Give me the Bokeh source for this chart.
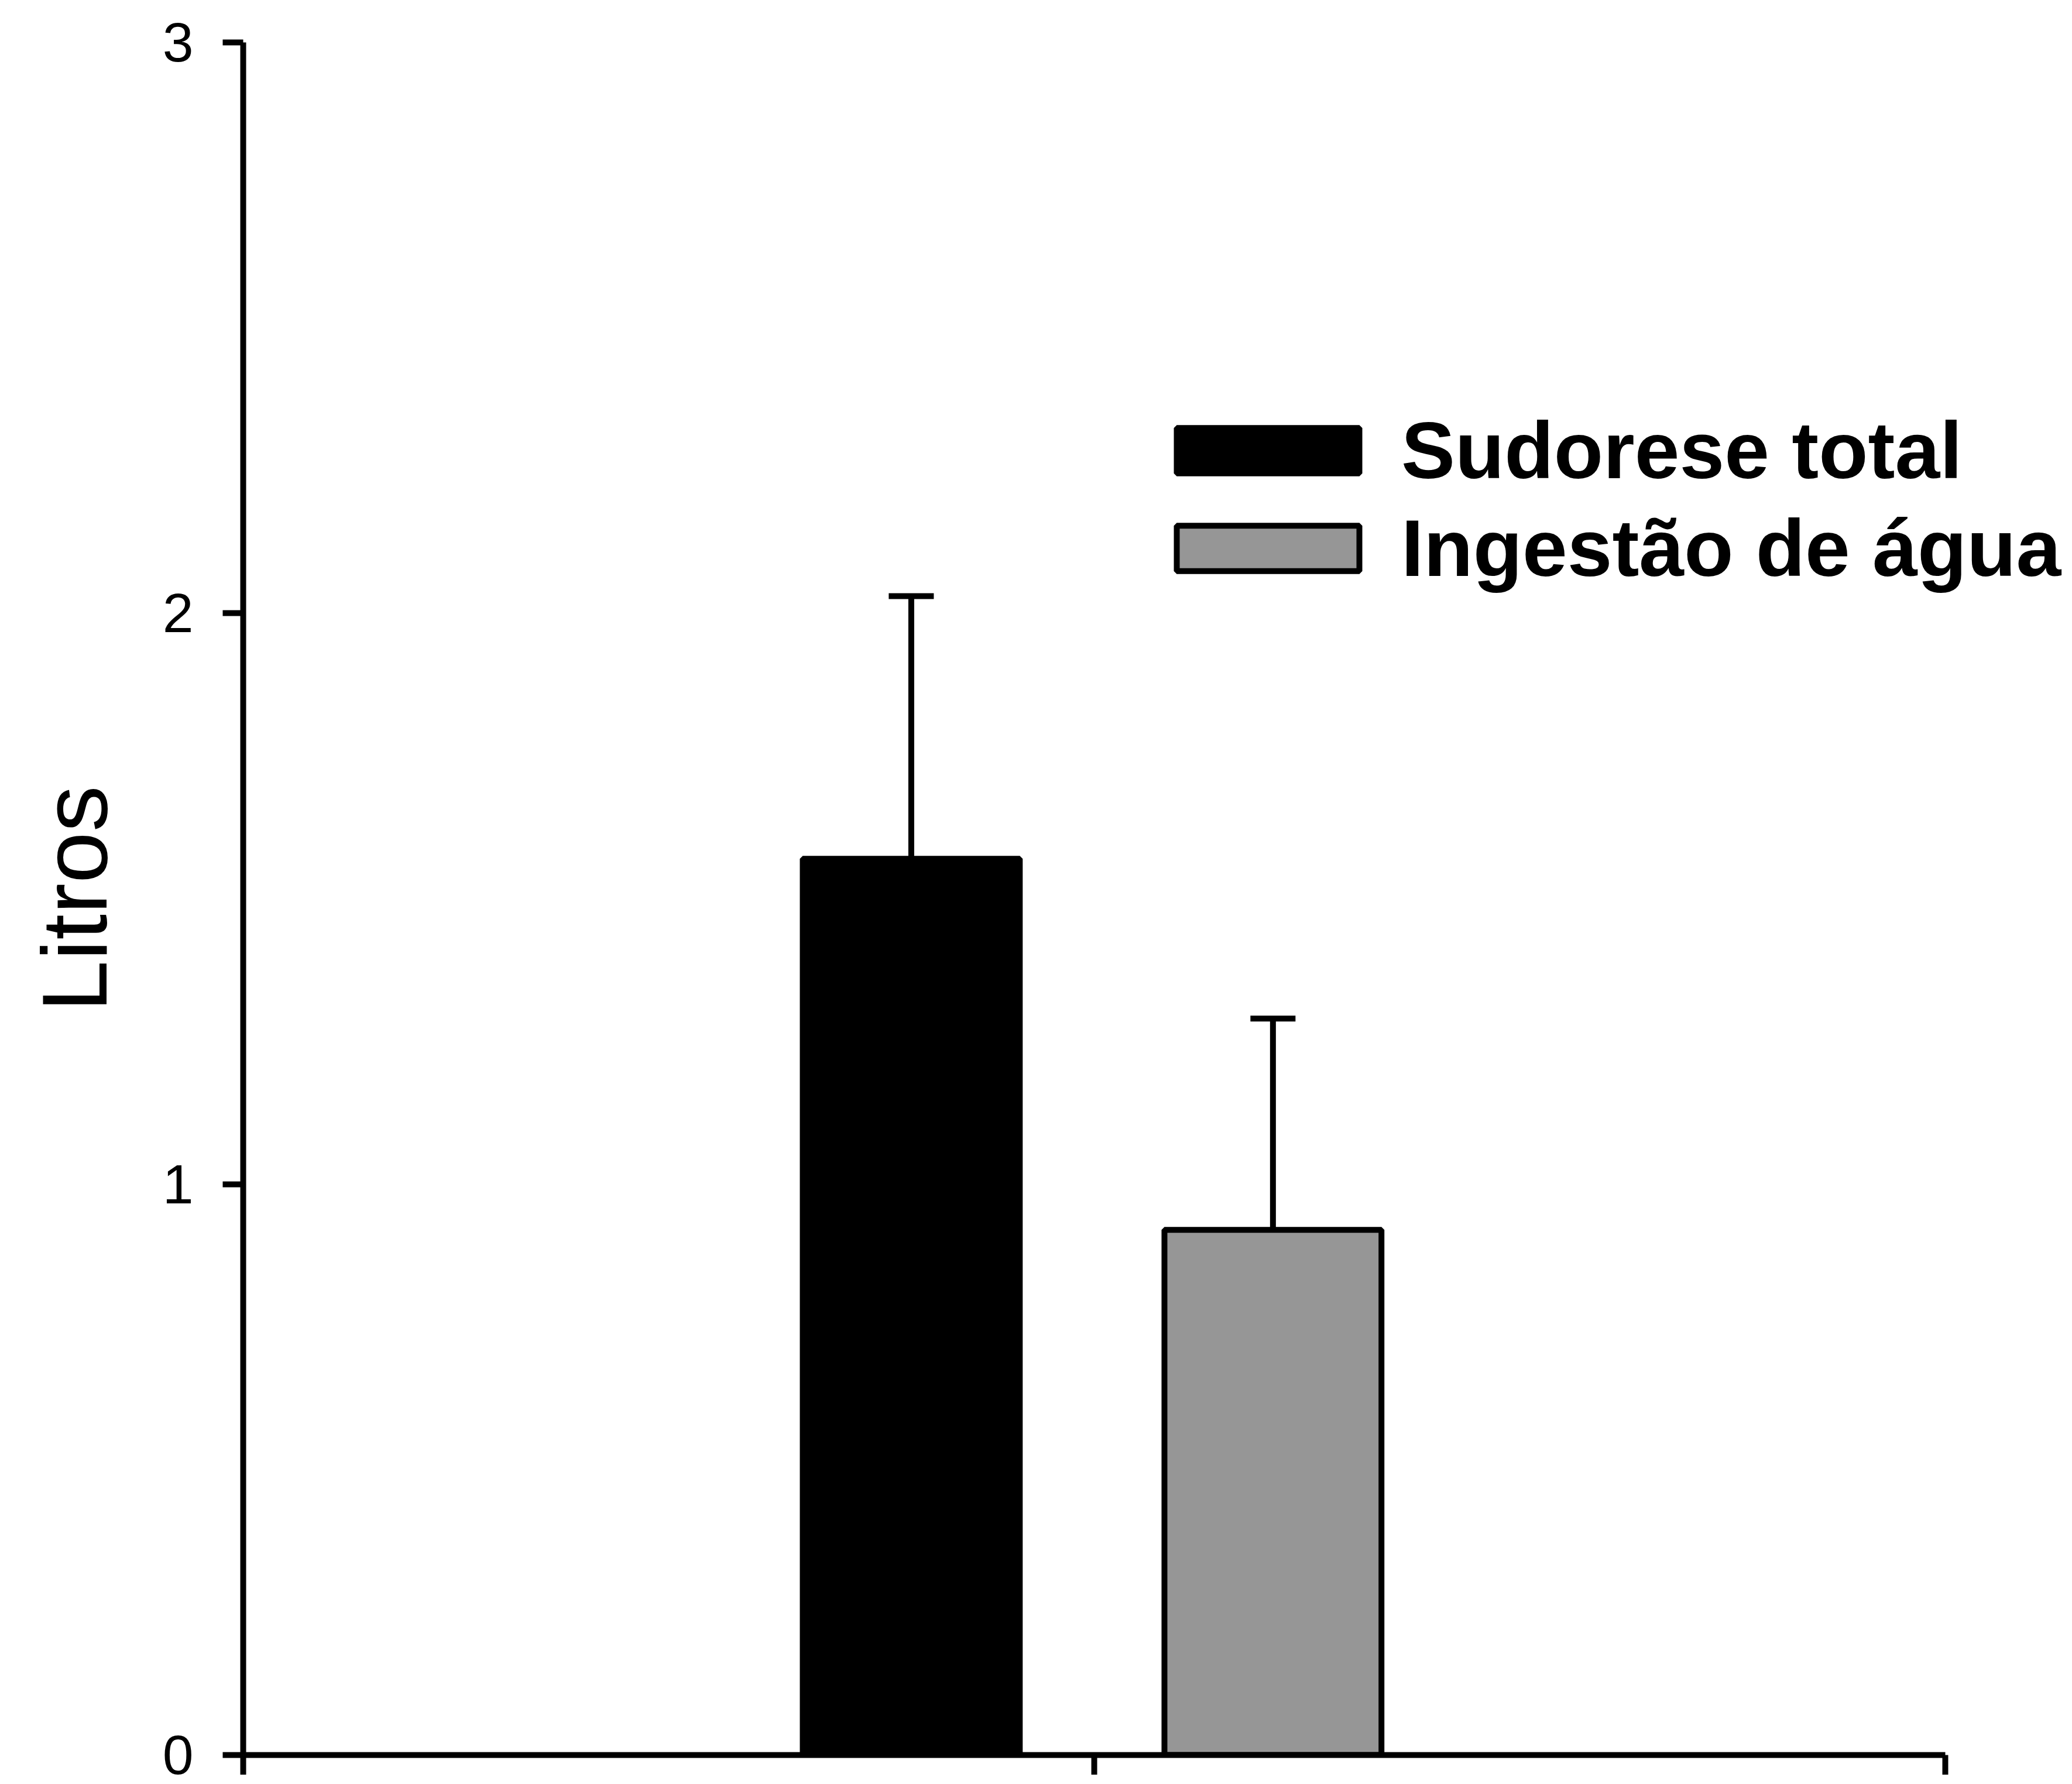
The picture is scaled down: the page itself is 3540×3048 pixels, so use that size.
from bokeh.plotting import figure
from bokeh.models import ColumnDataSource, Whisker, TeeHead, Legend, LegendItem, FixedTicker, Range1d
from bokeh.embed import file_html
from bokeh.resources import INLINE

# ---- data ----
series = ["Sudorese total", "Ingestão de água"]
values = [1.57, 0.92]
errors = [0.46, 0.37]
group_x = 1.0
offsets = [-0.215, 0.21]
colors = ["#000000", "#969696"]
y_ticks = [0, 1, 2, 3]
x_ticks = [0, 1, 2]

FONT = "Liberation Sans"

FRAME_W = 3109
PX_PER_UNIT = 1454.0

p = figure(frame_width=FRAME_W, frame_height=2926,
           x_range=Range1d(0, FRAME_W / PX_PER_UNIT), y_range=Range1d(0, 3),
           output_backend="svg", toolbar_location=None,
           min_border_left=415, min_border_right=0,
           min_border_top=72, min_border_bottom=34)

p.outline_line_color = None
p.grid.visible = False
p.background_fill_color = "white"

items = []
for i, name in enumerate(series):
    src = ColumnDataSource(dict(x=[group_x + offsets[i]], top=[values[i]],
                                upper=[values[i] + errors[i]]))
    r = p.vbar(x="x", top="top", bottom=0, width=0.255, source=src,
               fill_color=colors[i], line_color="black", line_width=10)
    w = Whisker(base="x", lower="top", upper="upper", source=src,
                dimension="height", line_color="black", line_width=10,
                upper_head=TeeHead(size=77, line_width=10, line_color="black"),
                lower_head=None)
    p.add_layout(w)
    items.append(LegendItem(label=name, renderers=[r]))

legend = Legend(items=items, location=(1556, 1982),
                padding=0, margin=0, spacing=8,
                glyph_width=390, glyph_height=97, label_standoff=33,
                label_text_font=FONT, label_text_font_style="bold",
                label_text_font_size="138px", label_text_color="black",
                border_line_color=None, background_fill_alpha=0)
p.add_layout(legend)

# y axis
ya = p.yaxis[0]
ya.ticker = FixedTicker(ticks=y_ticks)
ya.axis_label = "Litros"
ya.axis_label_text_font = FONT
ya.axis_label_text_font_style = "normal"
ya.axis_label_text_font_size = "158px"
ya.axis_label_text_color = "black"
ya.axis_label_standoff = 60
ya.axis_line_width = 10
ya.axis_line_color = "black"
ya.major_tick_line_width = 10
ya.major_tick_line_color = "black"
ya.major_tick_out = 35
ya.major_tick_in = 0
ya.minor_tick_out = 0
ya.minor_tick_in = 0
ya.major_label_text_font = FONT
ya.major_label_text_font_size = "95px"
ya.major_label_text_color = "black"
ya.major_label_standoff = 50

# x axis (line and ticks limited to 0..2)
xa = p.xaxis[0]
xa.bounds = (x_ticks[0], x_ticks[-1])
xa.ticker = FixedTicker(ticks=x_ticks)
xa.major_label_overrides = {t: "" for t in x_ticks}
xa.axis_line_width = 10
xa.axis_line_color = "black"
xa.major_tick_line_width = 10
xa.major_tick_line_color = "black"
xa.major_tick_out = 34
xa.major_tick_in = 0
xa.minor_tick_out = 0
xa.minor_tick_in = 0
xa.major_label_standoff = 0
xa.major_label_text_font_size = "10px"

open("out.html", "w").write(file_html(p, INLINE))
